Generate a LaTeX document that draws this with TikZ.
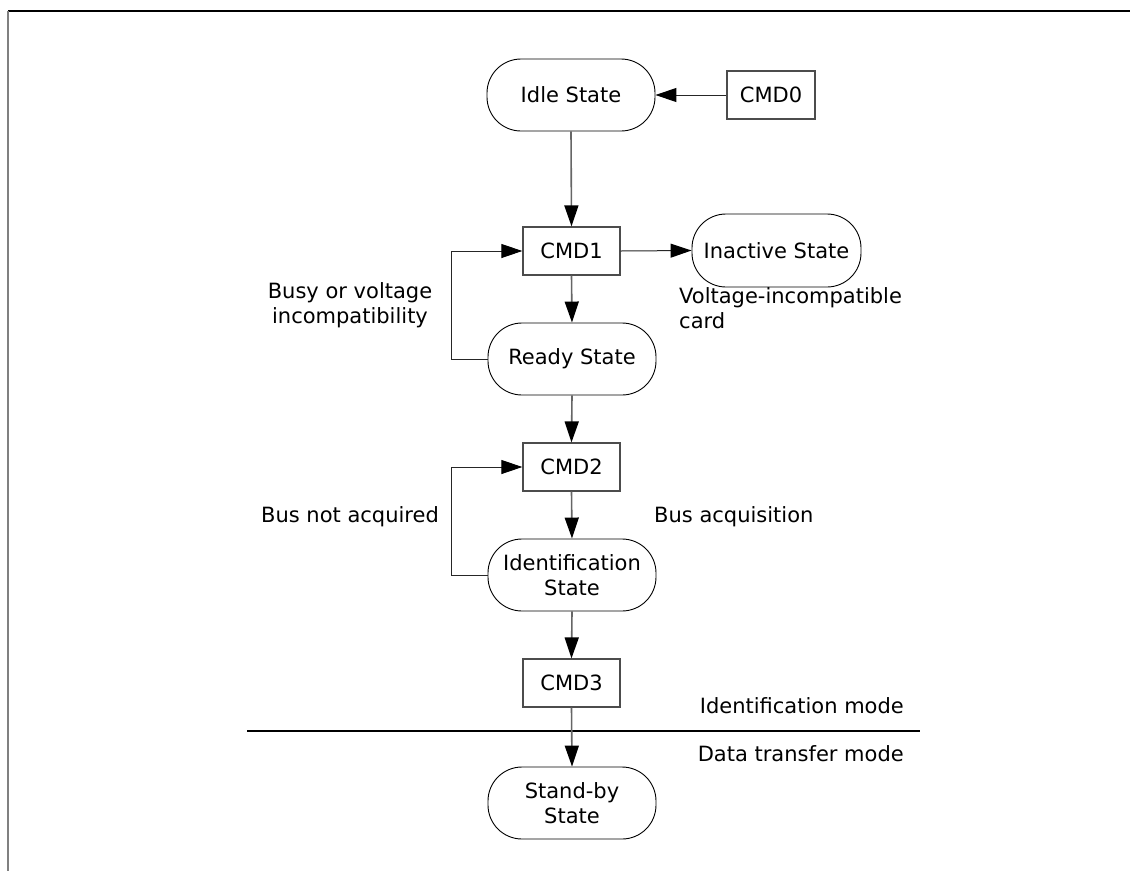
\documentclass[tikz,border=0pt]{standalone}
\usepackage{fontspec}
\setmainfont{DejaVu Sans}
\usetikzlibrary{arrows.meta}
\begin{document}
\begin{tikzpicture}[x=1pt,y=-1pt,
  every node/.style={font=\fontsize{21}{24.5}\selectfont, inner sep=0pt},
  pill/.style={draw=black, line width=0.9pt, rectangle, rounded corners=34pt,
    minimum width=168pt, minimum height=72pt, align=center},
  cmdbox/.style={draw=black!70, line width=1.3pt, rectangle,
    minimum width=97pt, minimum height=48pt},
  tip/.style={-{Triangle[length=21pt,width=14pt,color=black]}},
  vconn/.style={tip, draw=black!60, line width=1.6pt},
  hconn/.style={tip, draw=black!85, line width=1pt},
  lbl/.style={align=center}
]
\useasboundingbox (0,0) rectangle (1130,871);
% frame
\draw[line width=1.5pt] (8,11) -- (1130,11);
\draw[draw=black!50, line width=2pt] (8,11) -- (8,871);

% nodes
\node[pill] (idle) at (571,95) {Idle State};
\node[cmdbox, minimum width=88pt] (cmd0) at (771,95) {CMD0};
\node[cmdbox] (cmd1) at (571.5,251) {CMD1};
\node[pill, minimum width=169pt, minimum height=73pt] (inactive) at (776.5,250.5) {Inactive State};
\node[pill] (ready) at (572,359) {Ready State};
\node[cmdbox] (cmd2) at (571.5,467) {CMD2};
\node[pill] (ident) at (572,575) {Identification\\State};
\node[cmdbox] (cmd3) at (571.5,683) {CMD3};
\node[pill] (standby) at (572,803) {Stand-by\\State};

% labels (base anchor = baseline of last line)
\node[lbl, anchor=base] (busy) at (350,323) {Busy or voltage\\incompatibility};
\node[align=left, anchor=base west] (vinc) at (679,328) {Voltage-incompatible\\card};
\node[anchor=base] (busnot) at (350,522) {Bus not acquired};
\node[anchor=base west] (busacq) at (654,522) {Bus acquisition};
\node[anchor=base east] (idmode) at (904,713) {Identification mode};
\node[anchor=base east] (dtmode) at (904,761) {Data transfer mode};

% separator
\draw[line width=1.5pt] (247,731) -- (920,731);

% connectors
\draw[hconn] (cmd0.west) -- (idle.east);
\draw[vconn] (idle.south) -- (cmd1.north);
\draw[hconn] (cmd1.east) -- (inactive.west);
\draw[vconn] (cmd1.south) -- (ready.north);
\draw[hconn] (ready.west) -- ++(-36,0) |- (cmd1.west);
\draw[vconn] (ready.south) -- (cmd2.north);
\draw[vconn] (cmd2.south) -- (ident.north);
\draw[hconn] (ident.west) -- ++(-36,0) |- (cmd2.west);
\draw[vconn] (ident.south) -- (cmd3.north);
\draw[vconn] (cmd3.south) -- (standby.north);
\end{tikzpicture}
\end{document}
